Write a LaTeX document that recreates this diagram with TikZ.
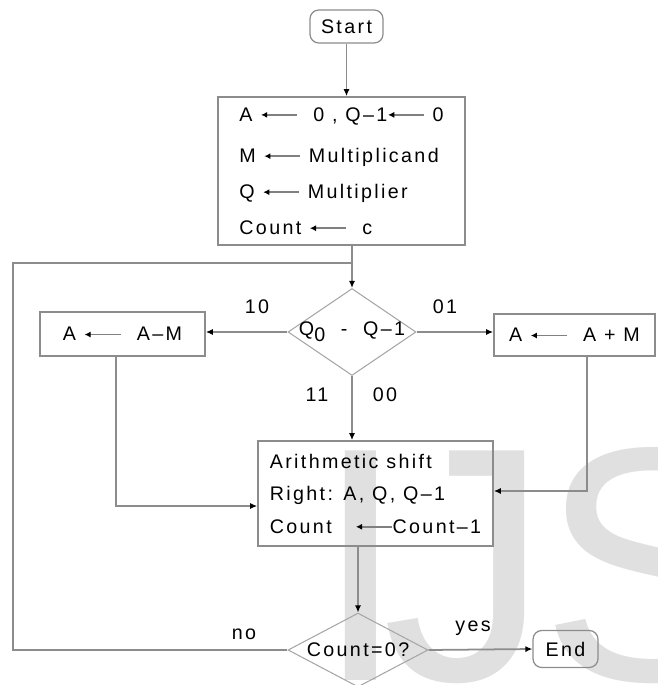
\documentclass[tikz,border=0pt]{standalone}
\usepackage{amsmath}
\usepackage{fontspec}
\setmainfont{Liberation Sans}[LetterSpace=12]
\newfontfamily\wmfont{Liberation Sans}
\usepackage{tikz}
\usetikzlibrary{arrows.meta,shapes.geometric}

\tikzset{
  flowline/.style={draw=black!45, line width=1pt},
  flowarrow/.style={flowline, -{Latex[black,length=4pt,width=3.5pt]}},
  procbox/.style={draw=black!45, line width=1pt, rectangle, inner sep=0pt},
  termbox/.style={draw=black!45, line width=0.7pt, rectangle, rounded corners=5pt, inner sep=0pt},
  decide/.style={draw=black!35, line width=0.6pt, diamond, inner sep=0pt},
  wmark/.style={text=black!12, anchor=base west, inner sep=0pt, font=\wmfont\fontsize{190}{190}\selectfont},
}
% assignment arrow used inside the boxes
\newcommand{\asgn}{\tikz[x=1cm, y=1cm, baseline=-0.6ex]
  \draw[black!50, line width=0.8pt, {Latex[black,length=3.5pt,width=3.5pt]}-] (0,0) -- (0.72,0);}

\begin{document}
\begin{tikzpicture}[x=0.02cm, y=-0.02cm, font=\fontsize{11.2}{13}\selectfont]
    \useasboundingbox (0,0) rectangle (657,685);

    % watermark
    \node[wmark] (wmI) at (314,680) {I};
    \node[wmark] (wmJ) at (382,680) {J};
    \node[wmark] (wmS) at (540,680) {S};

    % terminals
    \node[termbox, minimum width=1.46cm, minimum height=0.66cm] (start) at (346.5,26.5) {Start};
    \node[termbox, minimum width=1.3cm, minimum height=0.74cm] (end) at (565.5,649) {End};

    % init
    \node[procbox, minimum width=4.94cm, minimum height=2.96cm,
          align=left, font=\fontsize{11.2}{20.5}\selectfont] (init) at (341.5,171)
        {A\ \asgn\ \ 0 ,\ Q–1\asgn\ 0\\[3pt]
         M\ \asgn\ Multiplicand\\
         Q\ \asgn\ Multiplier\\
         Count\ \asgn\ \ c};

    % first test
    \node[decide, minimum width=2.56cm, minimum height=1.74cm] (dq) at (352,332)
        {\makebox[0pt]{Q\raisebox{-0.6ex}{0}\ \ -\ \ Q–1}};
    \node[procbox, minimum width=3.3cm, minimum height=0.88cm] (amin) at (122.5,334)
        {A\ \asgn\ \ A–M};
    \node[procbox, minimum width=3.22cm, minimum height=0.84cm] (apl) at (574.5,335)
        {A\ \asgn\ \ A + M};

    % shift
    \node[procbox, minimum width=4.7cm, minimum height=2.1cm,
          align=left, font=\fontsize{11.2}{18.5}\selectfont] (shift) at (375.5,493.5)
        {Arithmetic shift\\
         Right: A, Q, Q–1\\
         Count\ \ \ \asgn Count–1};

    % second test
    \node[decide, minimum width=2.8cm, minimum height=1.48cm] (dc) at (358,650)
        {\makebox[0pt]{Count=0?}};

    % labels
    \node (l10) at (257,307) {10};
    \node (l01) at (445,307) {01};
    \node (l11) at (317,395) {11};
    \node (l00) at (385,395) {00};
    \node (lno) at (244,634) {no};
    \node (lyes) at (473,628) {yes};

    \coordinate (join) at (352,263);
    \coordinate (loopB) at (13,650);
    \coordinate (loopT) at (13,263);
    \coordinate (bendL) at (116,506);
    \coordinate (bendR) at (587,491);

    % connectors
    \draw[flowarrow] (start) -- (start |- init.north);
    \draw[flowarrow] (dq.north |- init.south) -- (dq.north);
    \draw[flowarrow] (dq.west) -- (dq.west -| amin.east);
    \draw[flowarrow] (dq.east) -- (dq.east -| apl.west);
    \draw[flowarrow] (dq.south) -- (dq.south |- shift.north);
    \draw[flowarrow] (amin.south -| bendL) -- (bendL) -- (bendL -| shift.west);
    \draw[flowarrow] (apl.south -| bendR) -- (bendR) -- (bendR -| shift.east);
    \draw[flowarrow] (dc.north |- shift.south) -- (dc.north);
    \draw[flowarrow] (dc.east) -- (end.west);
    \draw[flowline] (dc.west) -- (loopB) -- (loopT) -- (join);
\end{tikzpicture}
\end{document}
